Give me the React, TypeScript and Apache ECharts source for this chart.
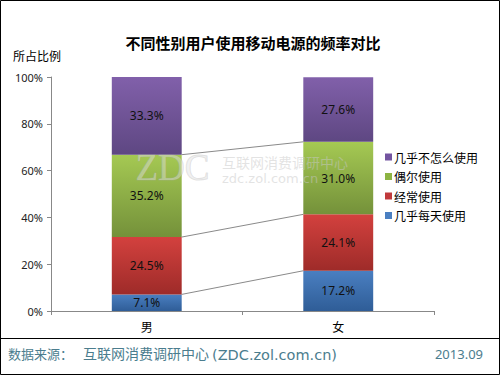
import React, { useEffect, useRef } from "react";
import * as echarts from "echarts";

const categories = ["男", "女"];
const seriesNames = ["几乎每天使用", "经常使用", "偶尔使用", "几乎不怎么使用"];
const daily = [7.1, 17.2];
const often = [24.5, 24.1];
const sometimes = [35.2, 31.0];
const rarely = [33.3, 27.6];
const yTicks = [0, 20, 40, 60, 80, 100];
const legendOrder = ["几乎不怎么使用", "偶尔使用", "经常使用", "几乎每天使用"];

const grad = (top: string, bottom: string) =>
  new echarts.graphic.LinearGradient(0, 0, 0, 1, [
    { offset: 0, color: top },
    { offset: 1, color: bottom },
  ]);

const colors = [
  ["#4a7fc1", "#2f5d97"],
  ["#d3413e", "#9e2b29"],
  ["#a5c953", "#74913a"],
  ["#8160aa", "#5e4782"],
];
const legendColors = ["#4a7fc1", "#c0393b", "#8db443", "#7354a0"];

export default function App() {
  const ref = useRef<HTMLDivElement>(null);
  useEffect(() => {
    if (!ref.current) return;
    const chart = echarts.init(ref.current, undefined, { renderer: "svg" });
    const all = [daily, often, sometimes, rarely];
    const BW = 0.365;
    const bounds: number[][] = [];
    let cm = 0, cf = 0;
    for (let i = 0; i < 3; i++) {
      cm += all[i][0];
      cf += all[i][1];
      bounds.push([0, cm, cf]);
    }
    const font = "'Noto Sans CJK SC', 'Noto Sans', sans-serif";
    const barSeries: any[] = all.map((vals, i) => ({
      name: seriesNames[i],
      type: "bar",
      stack: "total",
      barWidth: BW * 100 + "%",
      data: vals,
      itemStyle: { color: grad(colors[i][0], colors[i][1]) },
      label: {
        show: true,
        position: "inside",
        formatter: (p: any) => p.value.toFixed(1) + "%",
        color: "#111",
        fontSize: 12,
        fontFamily: "'Noto Sans', sans-serif",
      },
    }));
    const footColor = "#4b7d8e";
    const option: any = {
      animation: false,
      backgroundColor: "#fff",
      title: {
        text: "不同性别用户使用移动电源的频率对比",
        left: 248,
        textAlign: "center",
        top: 30,
        textStyle: { fontSize: 15, fontWeight: "bold", color: "#000", fontFamily: font },
      },
      legend: {
        data: legendOrder.map((n) => ({ name: n, itemStyle: { color: legendColors[seriesNames.indexOf(n)] } })),
        orient: "vertical",
        left: 380,
        top: 146,
        itemWidth: 7,
        itemHeight: 7,
        icon: "rect",
        itemGap: 7.5,
        textStyle: { fontSize: 12, color: "#000", fontFamily: font, padding: [0, 0, 0, -3] },
      },
      grid: { left: 51, right: 66, top: 77, bottom: 64 },
      xAxis: {
        type: "category",
        data: categories,
        axisLine: { lineStyle: { color: "#888" } },
        axisTick: { show: true, length: 4, lineStyle: { color: "#888" } },
        axisLabel: { color: "#000", fontSize: 12, margin: 9, fontFamily: font },
      },
      yAxis: {
        type: "value",
        min: 0,
        max: 100,
        interval: 20,
        splitLine: { show: false },
        axisLine: { show: true, lineStyle: { color: "#888" } },
        axisTick: { show: true, length: 4, lineStyle: { color: "#888" } },
        axisLabel: {
          color: "#222",
          fontSize: 11,
          margin: 8,
          fontFamily: "'Noto Sans', sans-serif",
          formatter: (v: number) => (yTicks.includes(v) ? v + "%" : ""),
        },
      },
      series: [
        ...barSeries,
        {
          type: "custom",
          name: "connectors",
          data: bounds,
          encode: { x: 0, y: [1, 2] },
          z: 1,
          silent: true,
          renderItem: (params: any, api: any) => {
            const p1 = api.coord([0, api.value(1)]);
            const p2 = api.coord([1, api.value(2)]);
            const w = api.size([1, 0])[0];
            const hw = (w * BW) / 2;
            return {
              type: "line",
              shape: { x1: p1[0] + hw, y1: p1[1], x2: p2[0] - hw, y2: p2[1] },
              style: { stroke: "#8a8a8a", lineWidth: 1 },
            };
          },
        },
      ],
      graphic: [
        {
          type: "rect",
          shape: { x: 0.5, y: 0.5, width: 499, height: 374 },
          style: { fill: "none", stroke: "#000", lineWidth: 1 },
          silent: true,
        },
        {
          type: "line",
          shape: { x1: 0, y1: 338.5, x2: 500, y2: 338.5 },
          style: { stroke: "#000", lineWidth: 1.2 },
        },
        {
          type: "text",
          left: 13,
          top: 49,
          style: { text: "所占比例", fill: "#000", font: "12px " + font },
        },
        {
          type: "text",
          left: 8,
          top: 347,
          style: { text: "数据来源：", fill: footColor, font: "13px " + font },
        },
        {
          type: "text",
          left: 83,
          top: 346,
          style: { text: "互联网消费调研中心", fill: footColor, font: "14px " + font },
        },
        {
          type: "text",
          left: 212,
          top: 347,
          style: { text: "(ZDC.zol.com.cn)", fill: footColor, font: "14.5px 'DejaVu Sans', sans-serif" },
        },
        {
          type: "text",
          right: 17,
          top: 347,
          style: { text: "2013.09", fill: footColor, font: "13px 'Noto Sans', sans-serif" },
        },
        {
          type: "text",
          left: 135,
          top: 148,
          z: 10,
          style: { text: "ZDC", fill: "rgba(225,225,225,0.45)", stroke: "rgba(170,170,170,0.35)", lineWidth: 1, font: "37px 'Liberation Serif', serif" },
        },
        {
          type: "text",
          left: 222,
          top: 155,
          z: 10,
          style: { text: "互联网消费调研中心", fill: "rgba(200,200,200,0.5)", font: "14px " + font },
        },
        {
          type: "text",
          left: 222,
          top: 172,
          z: 10,
          style: { text: "zdc.zol.com.cn", fill: "rgba(200,200,200,0.5)", font: "13px 'DejaVu Sans', sans-serif" },
        },
      ],
    };
    chart.setOption(option);
    return () => chart.dispose();
  }, []);
  return (
    <div
      ref={ref}
      style={{ position: "fixed", left: 0, top: 0, width: 500, height: 375 }}
    />
  );
}
